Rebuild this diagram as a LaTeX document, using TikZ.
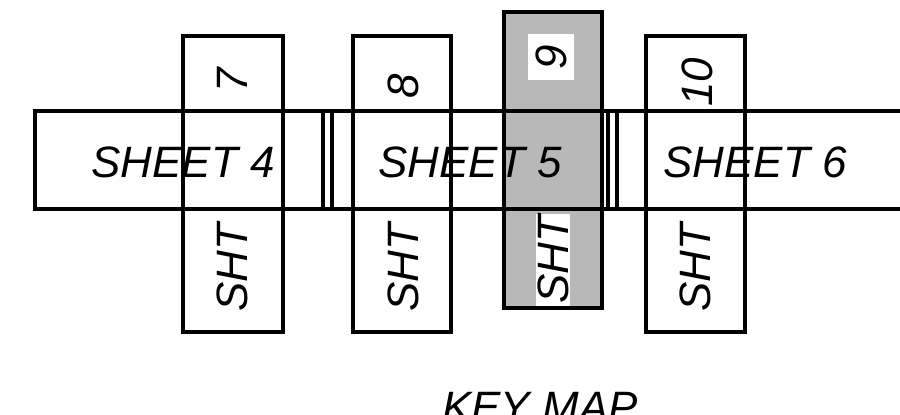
\documentclass[tikz,border=0pt]{standalone}
\usepackage{fontspec}
\setmainfont{Liberation Sans}

\begin{document}
\begin{tikzpicture}[x=0.02cm, y=-0.02cm, every node/.style={font=\fontsize{25}{29}\selectfont\itshape}, edge/.style={line width=1.8pt}, sht/.style={rotate=90, inner sep=1pt}, current/.style={fill=black!28}]
	\useasboundingbox (0,0) rectangle (900,415);
	\clip (0,0) rectangle (900,415);
	% shaded sheet 9
	\fill[current] (504,12) rectangle (602,308);
	% long strip, sheets 4 to 6
	\draw[edge] (35,111) rectangle (920,209);
	\draw[edge] (323,111) -- (323,209) (332,111) -- (332,209);
	\draw[edge] (608,111) -- (608,209) (617,111) -- (617,209);
	% cross sheets
	\draw[edge] (183,36) rectangle (283,332);
	\draw[edge] (353,36) rectangle (451,332);
	\draw[edge] (504,12) rectangle (602,308);
	\draw[edge] (646,36) rectangle (745,332);
	\node (s4) at (183,162) {SHEET 4};
	\node (s5) at (470,162) {SHEET 5};
	\node (s6) at (755,162) {SHEET 6};
	\node[sht] (n7) at (232,80) {7};
	\node[sht] (n8) at (403,86) {8};
	\node[sht, fill=white, inner xsep=6pt, inner ysep=4pt] (n9) at (551,57) {9};
	\node[sht] (n10) at (697,82) {10};
	\node[sht] (t7) at (232,268) {SHT};
	\node[sht] (t8) at (403,268) {SHT};
	\node[sht, fill=white] (t9) at (553,260) {SHT};
	\node[sht] (t10) at (695,268) {SHT};
	\node[anchor=base] (key) at (540,422) {KEY MAP};
\end{tikzpicture}
\end{document}
